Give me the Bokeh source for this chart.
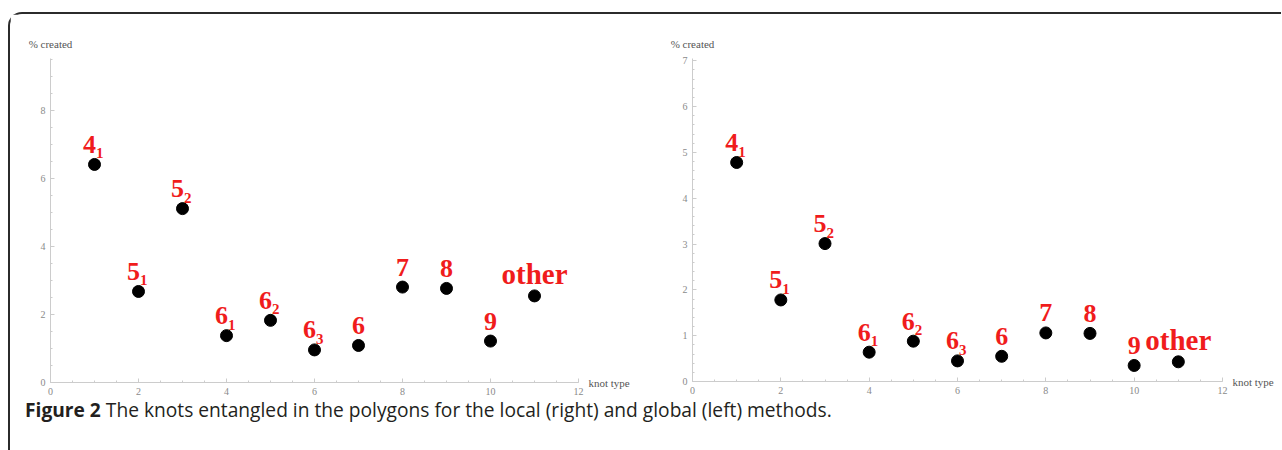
import numpy as np
from bokeh.plotting import figure
from bokeh.models import ColumnDataSource, LabelSet, FixedTicker, Range1d, Div, LinearAxis
from bokeh.layouts import column, row
from bokeh.core.properties import value
from bokeh.embed import file_html
from bokeh.resources import INLINE

# ---- data ----
knot_pos = [1, 2, 3, 4, 5, 6, 7, 8, 9, 10, 11]
knot_main = ["4", "5", "5", "6", "6", "6", "6", "7", "8", "9", "other"]
knot_sub = ["1", "1", "2", "1", "2", "3", "", "", "", "", ""]
global_pct = [6.42, 2.68, 5.12, 1.38, 1.83, 0.96, 1.09, 2.81, 2.77, 1.22, 2.55]   # left panel
local_pct = [4.78, 1.78, 3.01, 0.64, 0.88, 0.45, 0.55, 1.06, 1.05, 0.35, 0.43]     # right panel
x_ticks = [0, 2, 4, 6, 8, 10, 12]
global_y_ticks = [0, 2, 4, 6, 8]
local_y_ticks = [0, 1, 2, 3, 4, 5, 6, 7]
x_title = "knot type"
y_title = "% created"
caption_bold = "Figure 2"
caption_rest = "The knots entangled in the polygons for the local (right) and global (left) methods."

RED = "#f01c1c"
AXIS = "#cccccc"
TICKLAB = "#8a8a8a"
TITLE = "#555555"
SERIF = value("Liberation Serif")


def title_axis(p, side, tick, text, standoff):
    ax = LinearAxis(ticker=FixedTicker(ticks=[tick], minor_ticks=[]),
                    major_label_overrides={tick: text})
    ax.axis_line_color = None
    ax.major_tick_line_color = None
    ax.minor_tick_line_color = None
    ax.major_tick_in = 0
    ax.major_tick_out = 0
    ax.minor_tick_in = 0
    ax.minor_tick_out = 0
    ax.axis_label = None
    ax.major_label_standoff = standoff
    ax.major_label_text_font = "Liberation Serif"
    ax.major_label_text_font_size = "11px"
    ax.major_label_text_color = TITLE
    ax.major_label_orientation = "horizontal"
    p.add_layout(ax, side)


def panel(vals, y_max, y_major, y_minor_step, b_left, b_right, b_top, b_bottom, f_w, f_h):
    p = figure(title=None, frame_width=f_w, frame_height=f_h,
               x_range=Range1d(0, 12), y_range=Range1d(0, y_max),
               min_border_left=b_left, min_border_right=b_right,
               min_border_top=b_top, min_border_bottom=b_bottom,
               output_backend="svg", toolbar_location=None)
    p.grid.visible = False
    p.outline_line_color = None
    p.background_fill_color = "white"
    p.border_fill_color = "white"

    p.xaxis.ticker = FixedTicker(ticks=x_ticks, minor_ticks=list(np.arange(0, 12.01, 0.5)))
    p.yaxis.ticker = FixedTicker(ticks=y_major,
                                 minor_ticks=list(np.arange(0, y_max, y_minor_step)))
    for ax in (p.xaxis[0], p.yaxis[0]):
        ax.axis_line_color = AXIS
        ax.major_tick_line_color = AXIS
        ax.minor_tick_line_color = AXIS
        ax.major_tick_in = 4
        ax.major_tick_out = 0
        ax.minor_tick_in = 2
        ax.minor_tick_out = 0
        ax.major_label_text_font = "Liberation Serif"
        ax.major_label_text_font_size = "10px"
        ax.major_label_text_color = TICKLAB
        ax.major_label_standoff = 5

    # axis titles placed like the reference: "% created" above the y axis, "knot type" right of x axis
    title_axis(p, "above", 0, y_title, 9)
    title_axis(p, "right", 0, x_title, 10)

    src = ColumnDataSource(dict(x=knot_pos, y=vals))
    p.scatter("x", "y", source=src, size=12, color="black")

    idx_s = [i for i in range(len(knot_pos)) if knot_sub[i]]
    idx_p = [i for i in range(len(knot_pos)) if not knot_sub[i] and knot_main[i] != "other"]
    idx_o = [i for i in range(len(knot_pos)) if knot_main[i] == "other"]

    s_src = ColumnDataSource(dict(x=[knot_pos[i] for i in idx_s], y=[vals[i] for i in idx_s],
                                  m=[knot_main[i] for i in idx_s], s=[knot_sub[i] for i in idx_s]))
    p.add_layout(LabelSet(x="x", y="y", text="m", source=s_src, x_offset=1.5, y_offset=11.5,
                          text_align="right", text_baseline="alphabetic",
                          text_font=SERIF, text_font_style="bold",
                          text_font_size="26px", text_color=RED))
    p.add_layout(LabelSet(x="x", y="y", text="s", source=s_src, x_offset=1.5, y_offset=6,
                          text_align="left", text_baseline="alphabetic",
                          text_font=SERIF, text_font_style="bold",
                          text_font_size="15px", text_color=RED))
    p_src = ColumnDataSource(dict(x=[knot_pos[i] for i in idx_p], y=[vals[i] for i in idx_p],
                                  m=[knot_main[i] for i in idx_p]))
    p.add_layout(LabelSet(x="x", y="y", text="m", source=p_src, y_offset=11.5,
                          text_align="center", text_baseline="alphabetic",
                          text_font=SERIF, text_font_style="bold",
                          text_font_size="26px", text_color=RED))
    o_src = ColumnDataSource(dict(x=[knot_pos[i] for i in idx_o], y=[vals[i] for i in idx_o],
                                  m=[knot_main[i] for i in idx_o]))
    p.add_layout(LabelSet(x="x", y="y", text="m", source=o_src, y_offset=11.5,
                          text_align="center", text_baseline="alphabetic",
                          text_font=SERIF, text_font_style="bold",
                          text_font_size="29px", text_color=RED))
    return p


left = panel(global_pct, 9.54, global_y_ticks, 0.5, 40, 62, 41, 16, 528, 324)
right = panel(local_pct, 7.05, local_y_ticks, 0.2, 52, 59, 44, 16, 530, 323)

cap = Div(text=(f'<div style="margin-left:10px; margin-top:-2px; font-family:\'Open Sans\', sans-serif; '
                f'font-size:19.2px; line-height:20px; color:#231f20; white-space:nowrap;">'
                f'<b>{caption_bold}</b> {caption_rest}</div>'),
          width=1260, height=44)

page = column(row(left, right), cap,
              styles={"border-top": "2px solid #2b2b2b", "border-left": "2px solid #2b2b2b",
                      "border-top-left-radius": "14px", "margin-top": "12px",
                      "margin-left": "8px"})

open("out.html", "w").write(file_html(page, INLINE))
